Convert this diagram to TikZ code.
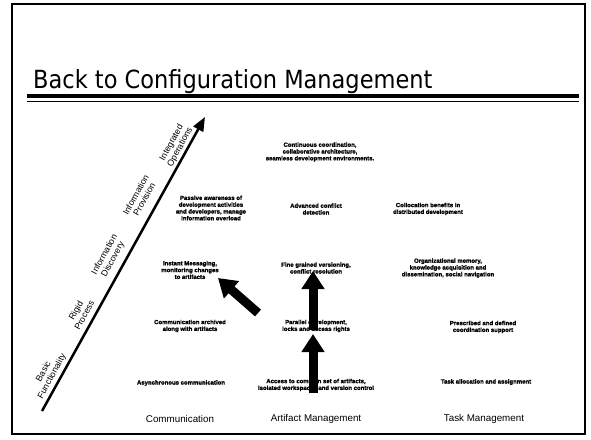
\documentclass[tikz,border=0pt]{standalone}
\usepackage{fontspec}
\setmainfont{Liberation Sans}
\newfontfamily\titlefont{DejaVu Sans Condensed}
\newfontfamily\cellfont[FakeBold=1.3]{Liberation Sans Bold}
\usetikzlibrary{arrows.meta}
\begin{document}
\begin{tikzpicture}[x=1pt,y=-1pt,
  cell/.style={font=\cellfont\fontsize{6}{6.8}\selectfont, align=center, inner sep=0pt},
  axislabel/.style={font=\fontsize{8.8}{9.6}\selectfont, align=center, rotate=61.2, inner sep=0pt},
  colhead/.style={font=\fontsize{9.8}{11}\selectfont, inner sep=0pt},
  bigarrow/.style={line width=9pt, -{Triangle[length=18pt,width=22pt]}},
  axis/.style={line width=2.5pt, -{Triangle[length=14pt,width=11pt]}}]
\useasboundingbox (0,0) rectangle (591,439);
\fill[white] (0,0) rectangle (591,439);

% slide frame
\draw[line width=2pt] (12,4) rectangle (585,434);

% title and its double rule
\node[anchor=base west, inner sep=0pt, font=\titlefont\fontsize{25}{30}\selectfont] (title) at (33,88) {Back to Configuration Management};
\draw[line width=4pt] (27,96) -- (579,96);
\draw[line width=1.2pt] (27,101.5) -- (579,101.5);

% maturity axis
\coordinate (axtail) at (42,411);
\coordinate (axtip) at (205,117);
\draw[axis] (axtail) -- (axtip);
\node[axislabel] (lbasic) at (48,374) {Basic\\Functionality};
\node[axislabel] (lrigid) at (80,313) {Rigid\\Process};
\node[axislabel] (ldisc) at (109,257) {Information\\Discovery};
\node[axislabel] (lprov) at (140,197) {Information\\Provision};
\node[axislabel] (linteg) at (176,145) {Integrated\\Operations};

% cells
\node[cell] (cont) at (320,152) {Continuous coordination,\\collaborative architecture,\\seamless development environments.};
\node[cell] (passive) at (211,208) {Passive awareness of\\development activities\\and developers, manage\\information overload};
\node[cell] (advconf) at (316,209) {Advanced conflict\\detection};
\node[cell] (colloc) at (428,209) {Collocation benefits in\\distributed development};
\node[cell] (im) at (190,270) {Instant Messaging,\\monitoring changes\\to artifacts};
\node[cell] (fine) at (316,268) {Fine grained versioning,\\conflict resolution};
\node[cell] (org) at (448,268) {Organizational memory,\\knowledge acquisition and\\dissemination, social navigation};
\node[cell] (commarch) at (190,326) {Communication archived\\along with artifacts};
\node[cell] (parallel) at (316,326) {Parallel development,\\locks and access rights};
\node[cell] (presc) at (483,327) {Prescribed and defined\\coordination support};
\node[cell] (async) at (181,383) {Asynchronous communication};
\node[cell] (access) at (316,385) {Access to common set of artifacts,\\isolated workspaces and version control};
\node[cell] (task) at (486,382) {Task allocation and assignment};

% column headings
\node[colhead] (hcomm) at (180,419) {Communication};
\node[colhead] (hart) at (316,419) {Artifact Management};
\node[colhead] (htask) at (484,419) {Task Management};

% progression arrows
\coordinate (d0) at (258,313);
\coordinate (d1) at (218,278);
\coordinate (u0) at (313,393);
\coordinate (u1) at (313,334);
\coordinate (v0) at (313,330);
\coordinate (v1) at (313,271);
\draw[bigarrow] (d0) -- (d1);
\draw[bigarrow] (u0) -- (u1);
\draw[bigarrow] (v0) -- (v1);
\end{tikzpicture}
\end{document}
